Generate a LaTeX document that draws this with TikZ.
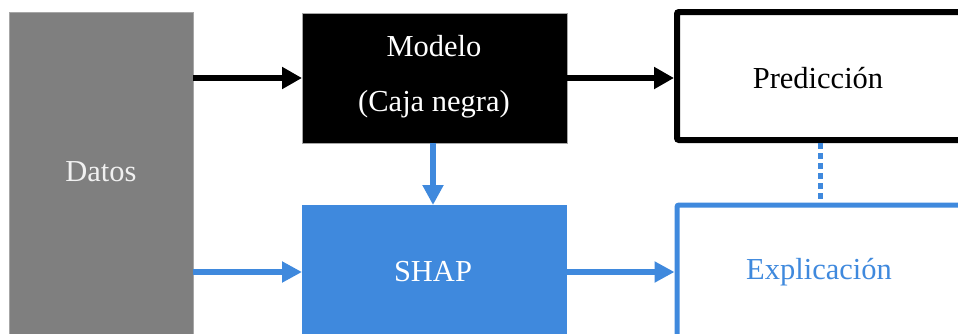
\documentclass[tikz,border=0pt]{standalone}
\usepackage{fontspec}
\setmainfont{Liberation Serif}
\usetikzlibrary{arrows.meta}

\definecolor{shapblue}{HTML}{3F89DD}
\definecolor{datagray}{HTML}{7F7F7F}

\begin{document}
\begin{tikzpicture}[x=1pt,y=-1pt,
  every node/.style={inner sep=0pt, outer sep=0pt},
  txt/.style={font=\fontsize{30.5}{36}\selectfont},
  box/.style={rectangle, minimum width=#1},
  blkarrow/.style={line width=6.5pt, black, -{Triangle[length=20pt,width=21pt]}},
  bluearrow/.style={line width=6pt, shapblue, -{Triangle[length=20pt,width=20pt]}},
]
\useasboundingbox (0,0) rectangle (958,333);
\clip (0,0) rectangle (958,333);

% data block on the left
\node[box=184pt, minimum height=333pt, fill=datagray, draw=gray!70, line width=0.8pt]
  (datos) at (101,178.5) {};
\node[txt, text=white!94!black] (datostext) at (101,172) {Datos};

% black-box model
\node[box=265pt, minimum height=130pt, fill=black, draw=gray!70, line width=0.8pt]
  (modelo) at (434.5,78) {};
\node[txt, text=white, align=center, font=\fontsize{30.5}{55}\selectfont]
  (modelotext) at (434,76.5) {Modelo\\(Caja negra)};

% SHAP block
\node[box=265pt, minimum height=140pt, fill=shapblue] (shap) at (434.5,275) {};
\node[txt, text=white] (shaptext) at (433,272) {SHAP};

% prediction output
\node[box=313pt, minimum height=128pt, draw=black, line width=6pt, rounded corners=2pt]
  (pred) at (833.5,76) {};
\node[txt] (predtext) at (818,78) {Predicción};

% explanation output
\node[box=313pt, minimum height=146pt, draw=shapblue, line width=5pt, rounded corners=2pt]
  (expl) at (833.5,278) {};
\node[txt, text=shapblue] (expltext) at (819,272) {Explicación};

% connectors
\draw[blkarrow] (datos.east |- modelo.west) -- (modelo.west);
\draw[blkarrow, shorten >=3pt] (modelo.east) -- (modelo.east -| pred.west);
\draw[bluearrow] (datos.east |- shaptext) -- (shap.west |- shaptext);
\draw[bluearrow, shorten >=2.5pt] (shap.east |- shaptext) -- (expl.west |- shaptext);
\draw[bluearrow] (modelo.south -| shaptext) -- (shap.north -| shaptext);
\coordinate (linkx) at (820,0);
\draw[shapblue, line width=5pt, dash pattern=on 6pt off 4pt, shorten <=3pt, shorten >=2.5pt]
  (pred.south -| linkx) -- (expl.north -| linkx);
\end{tikzpicture}
\end{document}
